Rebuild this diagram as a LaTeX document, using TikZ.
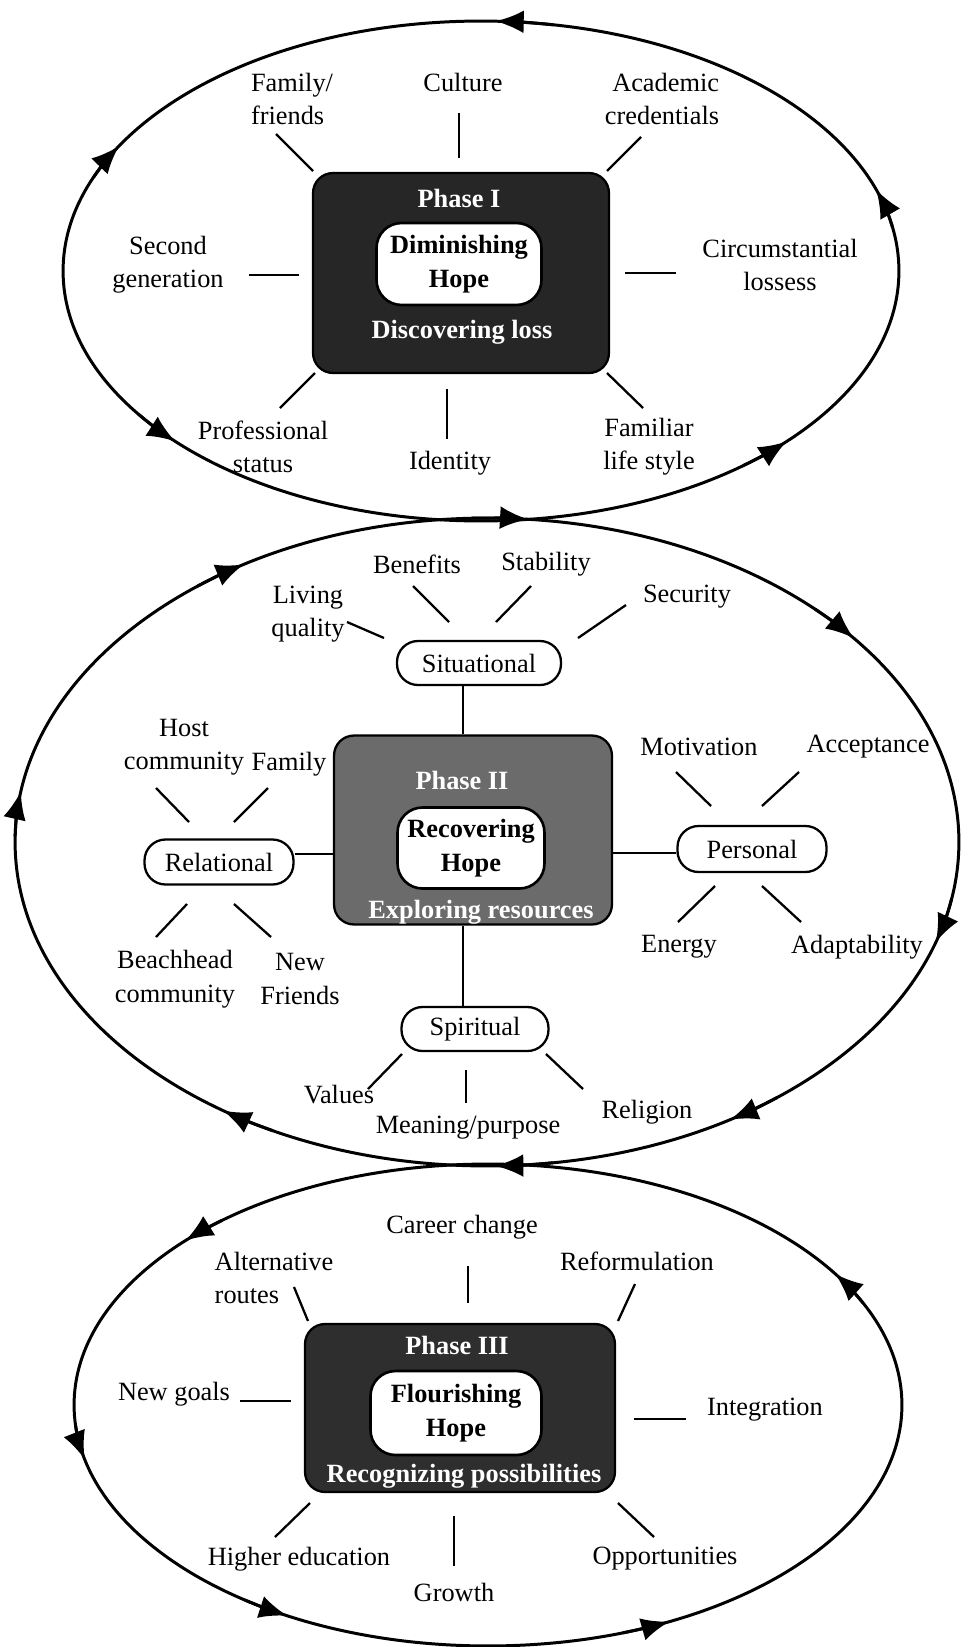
\documentclass[tikz,border=0pt]{standalone}
\usepackage{fontspec}
\setmainfont{Liberation Serif}
\usetikzlibrary{arrows.meta, positioning}
\tikzset{
  lbl/.style = {align=center, font=\fontsize{15}{19}\selectfont, inner sep=1pt},
  phasebox/.style = {draw, line width=1.3pt, rounded corners=0.4cm},
  hopebox/.style = {draw, fill=white, line width=1.5pt, rounded corners=0.5cm, align=center, font=\fontsize{15}{19}\selectfont\bfseries},
  phasetxt/.style = {text=white, font=\fontsize{15}{19}\selectfont\bfseries, inner sep=0pt},
  catbox/.style = {draw, fill=white, line width=1.3pt, rounded corners=0.42cm, font=\fontsize{15}{19}\selectfont},
  line/.style = {draw, line width=1.3pt},
  spoke/.style = {draw, line width=1.3pt},
  orbit/.style = {draw, line width=1.7pt},
  arrowmark/.style = {draw, line width=1.7pt, -{Latex[length=16pt, width=13pt]}}
}
\begin{document}
\begin{tikzpicture}[x=0.02cm, y=-0.02cm]
  \useasboundingbox (0,0) rectangle (973,1647);

  % the three cycles
  \coordinate (c1) at (481,271);
  \coordinate (c2) at (487,842);
  \coordinate (c3) at (488,1405);
  \path [orbit] (c1) ellipse [x radius=8.36cm, y radius=5cm];
  \path [orbit] (c2) ellipse [x radius=9.44cm, y radius=6.48cm];
  \path [orbit] (c3) ellipse [x radius=8.28cm, y radius=4.82cm];

  \foreach \from/\to in {80/88, 158/150, 215/223, 309/317, 10/19}
    \path [arrowmark] (c1) ++(\from:8.36cm and 5cm) arc [start angle=\from, end angle=\to, x radius=8.36cm, y radius=5cm];
  \foreach \from/\to in {92/85, 128/121, 46/39, 179/171, 350/342, 308/301, 243/236, 278/271}
    \path [arrowmark] (c2) ++(\from:9.44cm and 6.48cm) arc [start angle=\from, end angle=\to, x radius=9.44cm, y radius=6.48cm];
  \foreach \from/\to in {130/137, 185/193, 234/241, 289/296, 25/33}
    \path [arrowmark] (c3) ++(\from:8.28cm and 4.82cm) arc [start angle=\from, end angle=\to, x radius=8.28cm, y radius=4.82cm];

  % phase I
  \node [phasebox, fill=black!85, minimum width=5.92cm, minimum height=4cm] (p1) at (461,273) {};
  \node [hopebox, minimum width=3.3cm, minimum height=1.64cm] (h1) at (459,264) {Diminishing\\Hope};
  \node [phasetxt] (t1) at (459,198) {Phase I};
  \node [phasetxt] (d1) at (462,332) {Discovering loss};

  \node [lbl, align=left] (fam) at (292,99) {Family/\\friends};
  \node [lbl] (cult) at (463,82) {Culture};
  \node [lbl, align=right] (acad) at (662,99) {Academic\\credentials};
  \node [lbl] (secgen) at (168,265) {Second\\generation};
  \node [lbl] (circ) at (780,265) {Circumstantial\\lossess};
  \node [lbl] (prof) at (263,447) {Professional\\status};
  \node [lbl] (ident) at (450,463) {Identity};
  \node [lbl] (famil) at (649,447) {Familiar\\life style};

  % phase II
  \node [phasebox, fill=black!58, minimum width=5.56cm, minimum height=3.78cm] (p2) at (473,830) {};
  \node [hopebox, minimum width=2.94cm, minimum height=1.62cm] (h2) at (471,848) {Recovering\\Hope};
  \node [phasetxt] (t2) at (462,780) {Phase II};
  \node [phasetxt] (d2) at (481,912) {Exploring resources};

  \node [catbox, minimum width=3.28cm, minimum height=0.88cm] (sit) at (479,663) {Situational};
  \node [catbox, minimum width=2.98cm, minimum height=0.9cm] (rel) at (219,862) {Relational};
  \node [catbox, minimum width=2.98cm, minimum height=0.92cm] (per) at (752,849) {Personal};
  \node [catbox, minimum width=2.94cm, minimum height=0.88cm] (spi) at (475,1029) {Spiritual};

  \path [line] ([xshift=-0.32cm]sit.south) -- ([xshift=-0.32cm]sit.south |- p2.north);
  \path [line] ([xshift=-0.24cm]spi.north) -- ([xshift=-0.24cm]spi.north |- p2.south);
  \path [line] ([yshift=0.16cm]rel.east) -- ([yshift=0.16cm]rel.east -| p2.west);
  \path [line] ([yshift=-0.08cm]per.west) -- ([yshift=-0.08cm]per.west -| p2.east);

  \node [lbl] (ben) at (417,564) {Benefits};
  \node [lbl] (stab) at (546,564) {Stability};
  \node [lbl] (liv) at (308,614) {Living\\quality};
  \node [lbl] (secu) at (687,597) {Security};
  \node [lbl] (host) at (184,747) {Host\\community};
  \node [lbl] (famly) at (289,764) {Family};
  \node [lbl] (beach) at (175,979) {Beachhead\\community};
  \node [lbl] (newfr) at (300,979) {New\\Friends};
  \node [lbl] (motiv) at (699,747) {Motivation};
  \node [lbl] (accept) at (868,747) {Acceptance};
  \node [lbl] (energy) at (679,947) {Energy};
  \node [lbl] (adapt) at (857,947) {Adaptability};
  \node [lbl] (values) at (339,1095) {Values};
  \node [lbl] (mean) at (468,1128) {Meaning/purpose};
  \node [lbl] (relig) at (647,1112) {Religion};

  % phase III
  \node [phasebox, fill=black!82, minimum width=6.2cm, minimum height=3.36cm] (p3) at (460,1408) {};
  \node [hopebox, minimum width=3.42cm, minimum height=1.68cm] (h3) at (456,1413) {Flourishing\\Hope};
  \node [phasetxt] (t3) at (457,1345) {Phase III};
  \node [phasetxt] (d3) at (464,1476) {Recognizing possibilities};

  \node [lbl] (career) at (462,1227) {Career change};
  \node [lbl, align=left] (altr) at (274,1278) {Alternative\\routes};
  \node [lbl] (reform) at (637,1261) {Reformulation};
  \node [lbl] (newg) at (174,1394) {New goals};
  \node [lbl] (integ) at (765,1410) {Integration};
  \node [lbl] (higher) at (299,1559) {Higher education};
  \node [lbl] (growth) at (454,1592) {Growth};
  \node [lbl] (opport) at (665,1559) {Opportunities};

  % spokes
  \foreach \n/\ax/\ay/\bx/\by in {
      fam/276/134/313/171, cult/459/113/459/158, acad/641/137/607/171,
      secgen/249/275/299/275, circ/625/273/676/273, prof/315/373/280/408,
      ident/447/389/447/439, famil/607/373/643/408,
      ben/413/586/449/622, stab/531/586/496/622, liv/347/622/384/638,
      secu/626/605/578/638, host/156/788/189/822, famly/268/788/234/822,
      beach/187/904/156/937, newfr/234/904/271/937, motiv/676/772/711/806,
      accept/799/772/762/806, energy/715/886/678/922, adapt/762/886/801/922,
      values/402/1054/368/1089, mean/466/1070/466/1103, relig/546/1054/583/1089,
      career/468/1266/468/1303, altr/294/1287/308/1321, reform/635/1284/618/1321,
      newg/240/1401/291/1401, integ/634/1419/686/1419, higher/310/1503/275/1537,
      growth/454/1516/454/1566, opport/618/1503/654/1537} {
    \coordinate (\n-a) at (\ax,\ay);
    \coordinate (\n-b) at (\bx,\by);
    \path [spoke] (\n-a) -- (\n-b);
  }
\end{tikzpicture}
\end{document}
